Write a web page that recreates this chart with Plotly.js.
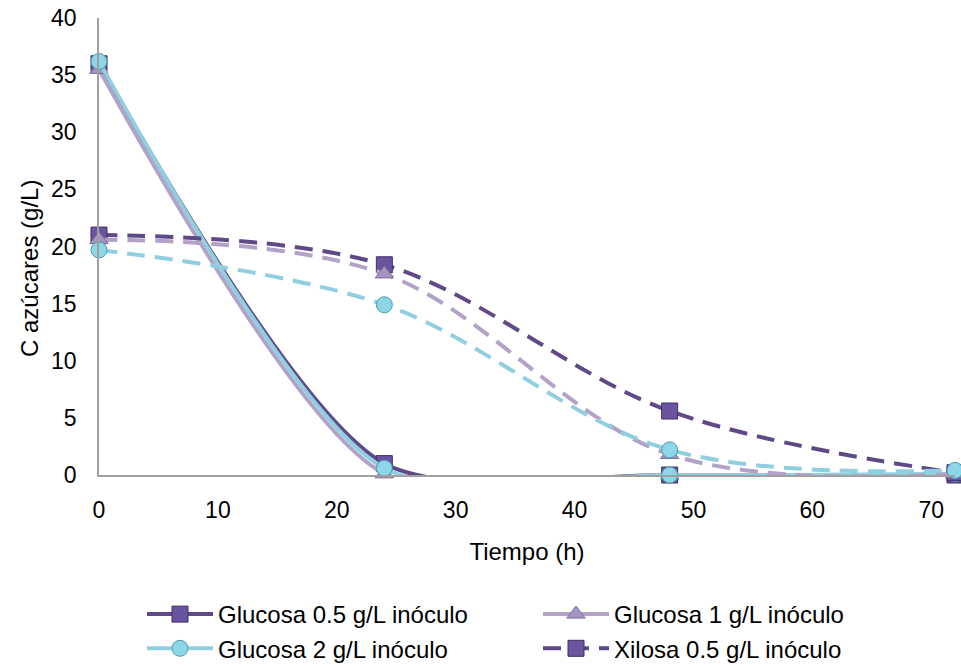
<!DOCTYPE html>
<html><head><meta charset="utf-8">
<script src="https://cdn.plot.ly/plotly-3.0.1.min.js"></script>
<style>html,body{margin:0;padding:0;background:#fff}#chart{width:961px;height:666px}</style>
</head><body><div id="chart"></div>
<script>
const tiempo = [0, 24, 48, 72];
const glucosa05 = [36.0, 1.0, 0.0, 0.0];
const glucosa1 = [35.5, 0.1, 0.0, 0.0];
const glucosa2 = [36.2, 0.6, 0.0, 0.1];
const xilosa05 = [21.0, 18.4, 5.6, 0.2];
const xilosa1 = [20.6, 17.6, 1.8, 0.1];
const xilosa2 = [19.7, 14.9, 2.2, 0.4];
const names = ["Glucosa 0.5 g/L inóculo", "Glucosa 1 g/L inóculo", "Glucosa 2 g/L inóculo",
               "Xilosa 0.5 g/L inóculo", "Xilosa 1 g/L inóculo", "Xilosa 2 g/L inóculo"];
const xTicks = [0, 10, 20, 30, 40, 50, 60, 70];

const dark = "#5F4A87", light = "#B3A2C7", cyan = "#8FCFDF";
const mk = {
  sq: {symbol: "square", size: 16, color: "#6A54A0", line: {color: "#3F2F63", width: 1}},
  tri: {symbol: "triangle-up", size: 16, color: "#A593C0", line: {color: "#7E6C9B", width: 1}},
  cir: {symbol: "circle", size: 16, color: "#8DD6E8", line: {color: "#4F9BB0", width: 1}}
};
function tr(y, name, color, dash, marker, show, sm) {
  return {x: tiempo, y: y, name: name, mode: "lines+markers", cliponaxis: false,
    line: {color: color, width: 4, shape: "spline", smoothing: sm, dash: dash},
    marker: marker, showlegend: show};
}
const dsh = "18px,10px";
const traces = [
  tr(glucosa05, names[0], dark, "solid", mk.sq, true, 0.75),
  tr(glucosa1, names[1], light, "solid", mk.tri, true, 0.75),
  tr(glucosa2, names[2], cyan, "solid", mk.cir, true, 0.75),
  tr(xilosa05, names[3], dark, dsh, mk.sq, true, 1),
  tr(xilosa1, names[4], light, dsh, mk.tri, false, 1),
  tr(xilosa2, names[5], cyan, dsh, mk.cir, false, 1)
];
const layout = {
  width: 961, height: 666,
  margin: {l: 99, r: 6, t: 18, b: 191, autoexpand: false},
  paper_bgcolor: "#fff", plot_bgcolor: "#fff",
  font: {family: "Liberation Sans, Arial, sans-serif", size: 23, color: "#000"},
  showlegend: true,
  xaxis: {range: [0, 72], tickvals: xTicks, showgrid: false, zeroline: false,
    showline: true, linecolor: "#A0A0A0", linewidth: 1.5, ticks: "", ticklabelstandoff: 14,
    title: {text: "Tiempo (h)", font: {size: 24}, standoff: 21}, tickfont: {size: 23}},
  yaxis: {range: [0, 40], dtick: 5, showgrid: false, zeroline: false,
    showline: true, linecolor: "#A0A0A0", linewidth: 1.5, ticks: "", ticklabelstandoff: 16,
    tickfont: {size: 23}},
  annotations: [{text: "C azúcares (g/L)", textangle: -90, xref: "paper", yref: "paper",
    x: (29 - 99) / 856, y: (475 - 269) / 457, showarrow: false, font: {size: 24},
    xanchor: "center", yanchor: "middle"}],
  legend: {orientation: "h", xref: "container", yref: "container", x: 142 / 961, y: 1 - 592 / 666,
    xanchor: "left", yanchor: "top",
    entrywidth: 315, entrywidthmode: "pixels", itemwidth: 66, font: {size: 24},
    traceorder: "normal", tracegroupgap: 0}
};
Plotly.newPlot("chart", traces, layout, {displayModeBar: false});
</script></body></html>
